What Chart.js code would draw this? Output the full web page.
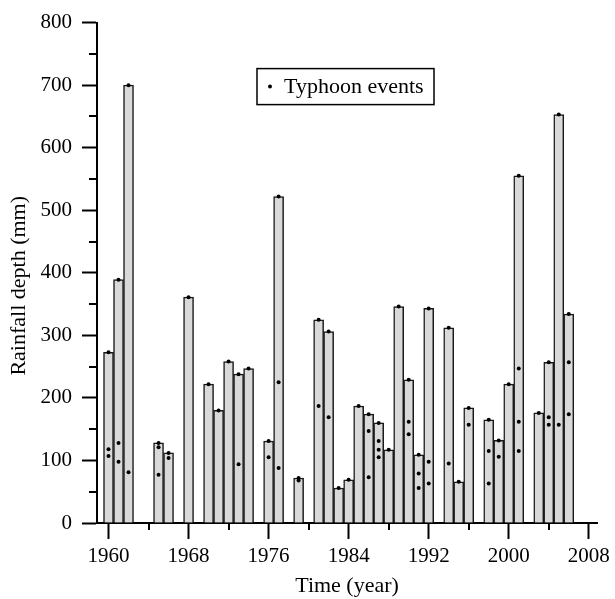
<!DOCTYPE html>
<html>
<head>
<meta charset="utf-8">
<script src="https://cdn.jsdelivr.net/npm/chart.js@4"></script>
<style>
    html, body { margin: 0; padding: 0; background: #fff; }
    #wrap { width: 615px; height: 599px; }
</style>
</head>
<body>
<div id="wrap"><canvas id="chart" width="615" height="599"></canvas></div>
<script>
// годы и максимальная глубина осадков (мм)
const years = [1960, 1961, 1962, 1965, 1966, 1968, 1970, 1971, 1972, 1973, 1974, 1976, 1977, 1979,
    1981, 1982, 1983, 1984, 1985, 1986, 1987, 1988, 1989, 1990, 1991, 1992, 1994, 1995, 1996,
    1998, 1999, 2000, 2001, 2003, 2004, 2005, 2006]
const rainfall = [273, 389, 700, 128, 112, 361, 222, 180, 258, 238, 247, 131, 522, 72,
    325, 306, 56, 69, 187, 174, 160, 117, 346, 229, 109, 343, 312, 66, 184,
    165, 132, 222, 555, 176, 257, 653, 334]

// тайфуны
const typhoonYears = [1960, 1960, 1961, 1961, 1962, 1965, 1965, 1966, 1973, 1976, 1977, 1977, 1979,
    1981, 1982, 1986, 1986, 1987, 1987, 1987, 1990, 1990, 1991, 1991, 1992, 1992, 1994, 1996,
    1998, 1998, 1999, 2001, 2001, 2001, 2004, 2004, 2005, 2006, 2006]
const typhoonDepths = [118, 107, 128, 98, 81, 121, 77, 104, 94, 105, 225, 88, 68,
    187, 169, 147, 73, 131, 117, 105, 162, 142, 79, 56, 98, 63, 95, 157,
    115, 63, 106, 247, 162, 115, 169, 157, 157, 257, 174]

const xTicks = [1960, 1968, 1976, 1984, 1992, 2000, 2008]
const xMinorTicks = [1964, 1972, 1980, 1988, 1996, 2004]
const yTicks = [0, 100, 200, 300, 400, 500, 600, 700, 800]
const yMinorTicks = [50, 150, 250, 350, 450, 550, 650, 750]

const FONT = "'Liberation Serif', 'Times New Roman', serif"
const Y_TITLE = "Rainfall depth (mm)"

// мелкие засечки на осях
const minorTicksPlugin = {
    id: "minorTicks",
    afterDraw(chart) {
        const {ctx, chartArea} = chart
        const x = chart.scales.x
        const y = chart.scales.y
        ctx.save()
        ctx.strokeStyle = "#000"
        ctx.lineWidth = 2
        ctx.beginPath()
        yMinorTicks.forEach(v => {
            const py = Math.round(y.getPixelForValue(v))
            ctx.moveTo(chartArea.left - 8, py)
            ctx.lineTo(chartArea.left, py)
        })
        xMinorTicks.forEach(v => {
            const px = Math.round(x.getPixelForValue(v))
            ctx.moveTo(px, chartArea.bottom)
            ctx.lineTo(px, chartArea.bottom + 7)
        })
        ctx.stroke()
        ctx.restore()
    }
}

// подпись оси Y (чуть ниже центра, как в оригинале)
const yTitlePlugin = {
    id: "yTitle",
    afterDraw(chart) {
        const {ctx, chartArea} = chart
        ctx.save()
        ctx.translate(19, (chartArea.top + chartArea.bottom) / 2 + 13)
        ctx.rotate(-Math.PI / 2)
        ctx.fillStyle = "#000"
        ctx.font = `22px ${FONT}`
        ctx.textAlign = "center"
        ctx.textBaseline = "middle"
        ctx.fillText(Y_TITLE, 0, 0)
        ctx.restore()
    }
}

// легенда в рамке
const boxLegendPlugin = {
    id: "boxLegend",
    afterDraw(chart) {
        const {ctx, chartArea} = chart
        const ds = chart.data.datasets[1]
        const bx = chartArea.left + 160
        const by = chartArea.top + 46
        const bw = 177
        const bh = 36
        ctx.save()
        ctx.strokeStyle = "#000"
        ctx.lineWidth = 1.5
        ctx.strokeRect(bx, by, bw, bh)
        ctx.fillStyle = "#000"
        ctx.beginPath()
        ctx.arc(bx + 13, by + bh / 2, 2, 0, Math.PI * 2)
        ctx.fill()
        ctx.font = `22px ${FONT}`
        ctx.textBaseline = "middle"
        ctx.fillText(ds.label, bx + 27, by + bh / 2 + 1)
        ctx.restore()
    }
}

new Chart(document.getElementById("chart"), {
    type: "bar",
    data: {
        datasets: [
            {
                type: "bar",
                label: "Rainfall",
                data: years.map((yr, i) => ({x: yr, y: rainfall[i]})),
                backgroundColor: "#d9d9d9",
                borderColor: "#1a1a1a",
                borderWidth: 1.5,
                barPercentage: 1,
                categoryPercentage: 1,
                order: 2
            },
            {
                type: "scatter",
                label: "Typhoon events",
                data: typhoonYears.map((yr, i) => ({x: yr, y: typhoonDepths[i]})),
                pointRadius: 2,
                pointBackgroundColor: "#000",
                pointBorderWidth: 0,
                order: 0
            },
            {
                type: "scatter",
                label: "tops",
                data: years.map((yr, i) => ({x: yr, y: rainfall[i]})),
                pointRadius: 2,
                pointBackgroundColor: "#000",
                pointBorderWidth: 0,
                order: 1
            }
        ]
    },
    options: {
        responsive: false,
        animation: false,
        layout: {padding: {top: 14, right: 13, left: 0, bottom: 0}},
        plugins: {
            legend: {display: false},
            tooltip: {enabled: false}
        },
        scales: {
            x: {
                type: "linear",
                min: 1958.85,
                max: 2008.83,
                offset: false,
                afterBuildTicks: s => { s.ticks = xTicks.map(v => ({value: v})) },
                afterFit: s => { s.height = 76 },
                grid: {
                    offset: false,
                    drawOnChartArea: false,
                    drawTicks: true,
                    tickLength: 16,
                    tickWidth: 2,
                    tickColor: "#000"
                },
                border: {display: true, color: "#000", width: 2},
                ticks: {
                    color: "#000",
                    font: {family: FONT, size: 21},
                    padding: 5,
                    maxRotation: 0,
                    autoSkip: false,
                    callback: v => String(v)
                },
                title: {
                    display: true,
                    text: "Time (year)",
                    color: "#000",
                    font: {family: FONT, size: 22},
                    padding: {top: 4, bottom: 0}
                }
            },
            y: {
                min: 0,
                max: 800,
                afterBuildTicks: s => { s.ticks = yTicks.map(v => ({value: v})) },
                afterFit: s => { s.width = 97 },
                grid: {
                    drawOnChartArea: false,
                    drawTicks: true,
                    tickLength: 15,
                    tickWidth: 2,
                    tickColor: "#000"
                },
                border: {display: true, color: "#000", width: 2},
                ticks: {
                    color: "#000",
                    font: {family: FONT, size: 21},
                    padding: 10
                }
            }
        }
    },
    plugins: [minorTicksPlugin, yTitlePlugin, boxLegendPlugin]
})
</script>
</body>
</html>
